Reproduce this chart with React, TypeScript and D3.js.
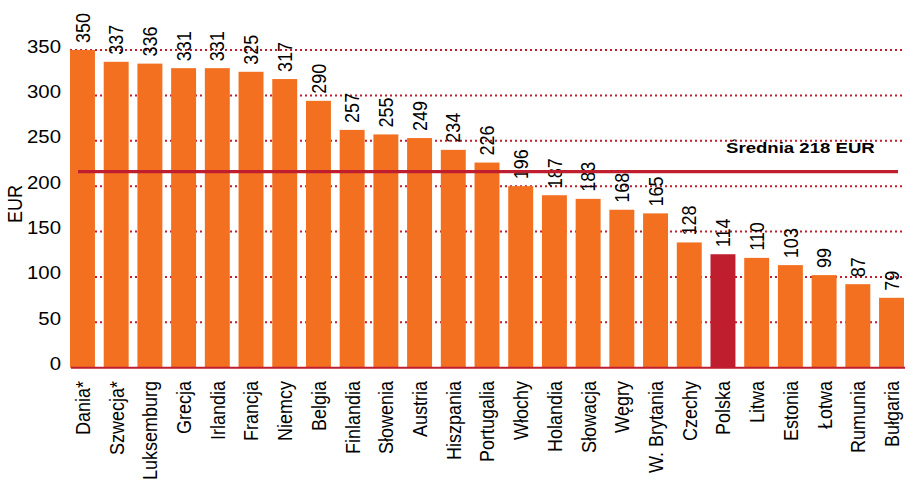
import React from "react";
import * as d3 from "d3";

const categories = [
  "Dania*", "Szwecja*", "Luksemburg", "Grecja", "Irlandia", "Francja", "Niemcy",
  "Belgia", "Finlandia", "Słowenia", "Austria", "Hiszpania", "Portugalia", "Włochy",
  "Holandia", "Słowacja", "Węgry", "W. Brytania", "Czechy", "Polska", "Litwa",
  "Estonia", "Łotwa", "Rumunia", "Bułgaria",
];
// printed value labels
const labels = [350, 337, 336, 331, 331, 325, 317, 290, 257, 255, 249, 234, 226, 196, 187, 183, 168, 165, 128, 114, 110, 103, 99, 87, 79];
// bar heights as drawn in the picture
const barHeights = [350, 337, 335, 330, 330, 326, 318, 294, 262, 257, 253, 240, 226, 200, 190, 186, 174, 170, 138, 125, 121, 113, 102, 92, 77];
const yTicks = [0, 50, 100, 150, 200, 250, 300, 350];
const highlight = "Polska";
const averageLinePos = 216;
const averageLabel = "Średnia 218 EUR";
const yTitle = "EUR";

const W = 917;
const H = 488;
const ORANGE = "#F37021";
const RED = "#BE1E2D";
const FONT = "'Liberation Sans', Arial, Helvetica, sans-serif";

export default function App() {
  const x = d3.scaleBand<string>().domain(categories).range([70, 904]).paddingInner(0.26).paddingOuter(0);
  const y = d3.scaleLinear().domain([0, 350]).range([367.7, 50]);
  const bw = x.bandwidth();

  return (
    <svg width={W} height={H} style={{ position: "absolute", left: 0, top: 0, background: "#fff" }} fontFamily={FONT}>
      {/* gridlines */}
      {yTicks.filter((t) => t > 0).map((t) => (
        <line key={t} x1={70} x2={904} y1={y(t)} y2={y(t)} stroke={RED} strokeWidth={2} strokeDasharray="2 3" />
      ))}
      {/* y tick labels */}
      {yTicks.map((t) => (
        <text key={t} transform={`translate(61,${y(t) + 2.5}) scale(1.1,1)`} textAnchor="end" fontSize={18.5} fill="#000">
          {t}
        </text>
      ))}
      <text transform={`translate(15,204) rotate(-90) scale(1,1.15)`} textAnchor="middle" dy="0.35em" fontSize={18} fill="#000">
        {yTitle}
      </text>
      {/* bars */}
      {categories.map((c, i) => (
        <rect key={c} x={x(c)} y={y(barHeights[i])} width={bw} height={y(0) - y(barHeights[i])} fill={c === highlight ? RED : ORANGE} />
      ))}
      {/* value labels */}
      {categories.map((c, i) => (
        <text
          key={c}
          transform={`translate(${(x(c) as number) + bw / 2},${y(barHeights[i]) - 7}) rotate(-90) scale(1,1.1)`}
          dy="0.36em"
          fontSize={18}
          fill="#000"
        >
          {labels[i]}
        </text>
      ))}
      {/* category labels */}
      {categories.map((c) => (
        <text
          key={c}
          transform={`translate(${(x(c) as number) + bw / 2},381) rotate(-90) scale(1,1.15)`}
          textAnchor="end"
          dy="0.36em"
          fontSize={18}
          fill="#000"
        >
          {c}
        </text>
      ))}
      {/* axis line */}
      <line x1={71} x2={905} y1={y(0)} y2={y(0)} stroke={RED} strokeWidth={2} />
      {/* average line */}
      <line x1={78} x2={898} y1={y(averageLinePos)} y2={y(averageLinePos)} stroke={RED} strokeWidth={3.2} />
      <text transform="translate(726,153) scale(1.2,1)" fontSize={15.5} fontWeight="bold" fill="#000">
        {averageLabel}
      </text>
    </svg>
  );
}
